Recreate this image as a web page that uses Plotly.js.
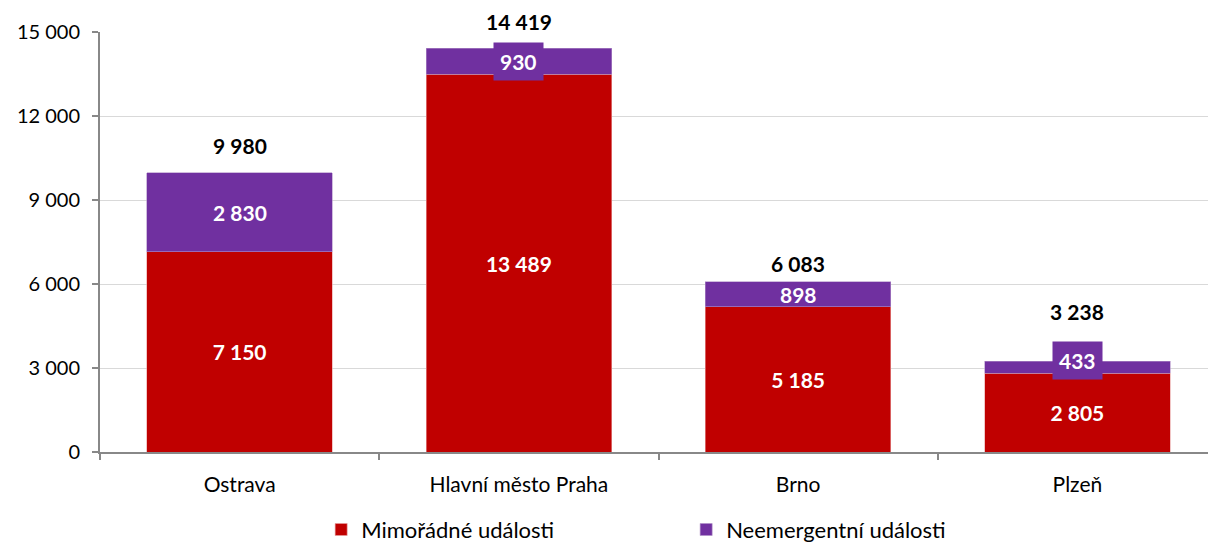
<!DOCTYPE html>
<html><head><meta charset="utf-8">
<script src="https://cdn.plot.ly/plotly-3.0.1.min.js"></script>
<style>html,body{margin:0;padding:0;overflow:hidden;background:#fff;}#chart{width:1217px;height:542px;}</style>
</head><body><div id="chart"></div>
<script>
const categories = ['Ostrava', 'Hlavní město Praha', 'Brno', 'Plzeň'];
const mimoradne = [7150, 13489, 5185, 2805];
const neemergentni = [2830, 930, 898, 433];
const totals = [9980, 14419, 6083, 3238];
const yTicks = [0, 3000, 6000, 9000, 12000, 15000];

const totalShift = [27, 27, 18, 50];
const purpleShift = [0, 0, 0, 7];
const purpleBoxPad = [0, 6, 0, 6];

const FONT = 'Lato, "Open Sans", sans-serif';
const fmt = v => v.toLocaleString('en-US').replace(/,/g, ' ');

const traces = [
  {type: 'bar', name: 'Mimořádné události', x: categories, y: mimoradne,
   marker: {color: '#C00000', line: {color: '#e8a0a0', width: 0.6}},
   text: mimoradne.map(fmt), textposition: 'inside', insidetextanchor: 'middle',
   textfont: {color: '#fff', size: 21, family: FONT, weight: 'bold'},
   width: 0.665, hoverinfo: 'none'},
  {type: 'bar', name: 'Neemergentní události', x: categories, y: neemergentni,
   marker: {color: '#7030A0', line: {color: '#b090c8', width: 0.6}},
   textposition: 'none', width: 0.665, hoverinfo: 'none'}
];

const annotations = [];
categories.forEach((c, i) => {
  annotations.push({x: c, y: mimoradne[i] + neemergentni[i] / 2, text: '<b>' + fmt(neemergentni[i]) + '</b>',
    showarrow: false, bgcolor: purpleBoxPad[i] ? '#7030A0' : 'rgba(0,0,0,0)', borderpad: purpleBoxPad[i],
    yshift: purpleShift[i], font: {color: '#fff', size: 21, family: FONT}});
  annotations.push({x: c, y: totals[i], text: '<b>' + fmt(totals[i]) + '</b>', showarrow: false,
    yshift: totalShift[i], bgcolor: '#fff', borderpad: 2,
    font: {color: '#000', size: 21, family: FONT}});
});

const layout = {
  width: 1217, height: 542,
  margin: {l: 100, r: 0, t: 32, b: 90, autoexpand: false},
  paper_bgcolor: '#fff', plot_bgcolor: '#fff',
  barmode: 'stack', bargap: 0.335,
  separators: ', ',
  font: {family: FONT, size: 20, color: '#000'},
  xaxis: {type: 'category', range: [-0.5, 3.5], showline: true, linecolor: '#888', linewidth: 2,
    ticks: 'outside', tickson: 'boundaries', ticklen: 6, tickcolor: '#888', tickwidth: 2,
    tickfont: {size: 21, family: FONT}, showgrid: false, ticklabelstandoff: 13},
  yaxis: {range: [0, 15000], tickvals: yTicks, ticktext: yTicks.map(fmt), showline: true,
    linecolor: '#888', linewidth: 2, ticks: 'outside', ticklen: 6, tickcolor: '#888', tickwidth: 2,
    gridcolor: '#d9d9d9', gridwidth: 1, tickfont: {size: 20, family: FONT}, zeroline: false,
    ticklabelstandoff: 8},
  showlegend: true,
  legend: {orientation: 'h', x: 0.198, xanchor: 'left', y: -0.135, yanchor: 'top',
    font: {size: 22, family: FONT}, traceorder: 'normal', entrywidth: 320, itemwidth: 30},
  annotations: annotations
};

Plotly.newPlot('chart', traces, layout, {staticPlot: true, displayModeBar: false});
</script>
</body></html>
